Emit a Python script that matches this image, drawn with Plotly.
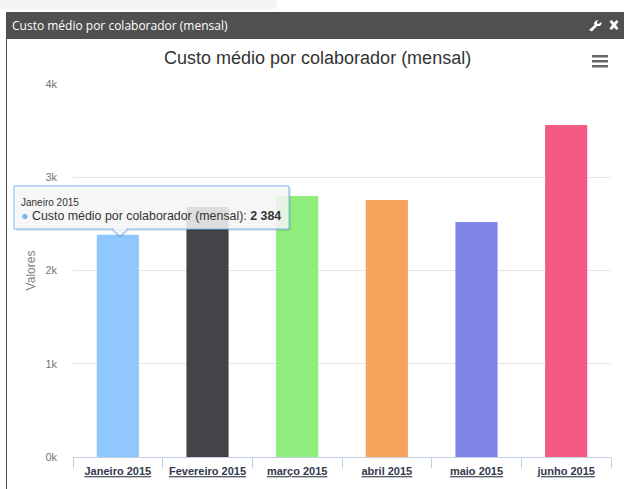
import plotly.graph_objects as go

W, H = 624, 489
categories = ["Janeiro 2015", "Fevereiro 2015", "março 2015", "abril 2015", "maio 2015", "junho 2015"]
values = [2384, 2680, 2800, 2755, 2520, 3560]
colors = ["#90c8fd", "#434348", "#90ed7d", "#f7a35c", "#8085e9", "#f45b84"]
y_ticks = [0, 1000, 2000, 3000, 4000]
y_labels = ["0k", "1k", "2k", "3k", "4k"]
title = "Custo médio por colaborador (mensal)"
y_title = "Valores"
L, R, T, B = 73, 611, 84, 457

def px(x):
    return (x - L) / (R - L)

def py(y):
    return (B - y) / (B - T)

def rect(x0, y0, x1, y1, fill, line=None, lw=0, layer="above"):
    return dict(type="rect", xref="paper", yref="paper", x0=px(x0), x1=px(x1), y0=py(y0), y1=py(y1),
                fillcolor=fill, line=dict(color=line or fill, width=lw), layer=layer)

def poly(points, fill, line=None, lw=0):
    d = "M" + " L".join(f"{px(a):.5f},{py(b):.5f}" for a, b in points) + " Z"
    return dict(type="path", xref="paper", yref="paper", path=d, fillcolor=fill,
                line=dict(color=line or fill, width=lw), layer="above")

def text(x, y, s, size, color, family="Liberation Sans", anchor="left"):
    return dict(xref="paper", yref="paper", x=px(x), y=py(y), text=s, showarrow=False, xanchor=anchor,
                yanchor="middle", align=anchor, font=dict(size=size, color=color, family=family),
                borderpad=0, borderwidth=0)

shapes = [
    rect(0, 0, 277, 9, "#f5f5f5", layer="below"),
    rect(6, 12, 7, 489, "#505050", layer="below"),
    rect(6, 12, 624, 39, "#505050", layer="below"),
    # tooltip shadow, body and pointer
    rect(16, 188, 291, 231, "rgba(0,0,0,0.10)"),
    poly([(111, 231), (120, 238), (129, 231)], "rgba(0,0,0,0.10)"),
    rect(14, 186, 289, 229, "rgba(249,249,249,0.85)", "#7cb5ec", 1),
    poly([(112, 229), (120, 236), (128, 229)], "#f4f8fc", "#7cb5ec", 1),
    rect(113, 227.5, 127, 229.5, "#f6f8fa"),
    # menu button
    rect(592, 55, 608, 57.5, "#666666"),
    rect(592, 60, 608, 62.5, "#666666"),
    rect(592, 65, 608, 67.5, "#666666"),
    # wrench
    poly([(589, 30), (592, 31.5), (597, 26), (600, 26), (602, 23), (600, 22.5), (599, 24), (597, 23.5),
          (597, 21.5), (598.5, 20), (596, 20.5), (594, 23), (594.5, 25)], "#ffffff"),
    # close cross
    poly([(609.5, 21.5), (611.5, 20), (614, 22.5), (616.5, 20), (618.5, 21.5), (616, 25), (618.5, 28.5),
          (616.5, 30), (614, 27.5), (611.5, 30), (609.5, 28.5), (612, 25)], "#ffffff"),
]

annotations = [
    text(12, 26, title, 12, "#ffffff", "Open Sans"),
    text(317, 58, title, 18, "#333333", anchor="center"),
    text(21, 202, categories[0], 10, "#333333"),
    text(21, 215.5, f'<span style="color:#7cb5ec">●</span> {title}: <b>{values[0]:,}</b>'.replace(",", " "), 12.4, "#333333"),
]

fig = go.Figure(go.Bar(
    x=categories, y=values, marker=dict(color=colors, line=dict(width=0)), width=0.47,
    hoverinfo="skip",
))
fig.update_layout(
    width=W, height=H, autosize=False, showlegend=False,
    margin=dict(l=L, r=W - R, t=T, b=H - B, pad=0),
    paper_bgcolor="#ffffff", plot_bgcolor="#ffffff",
    font=dict(family="Liberation Sans", color="#666666"),
    shapes=shapes, annotations=annotations,
    xaxis=dict(
        type="category", tickmode="array", tickvals=categories,
        ticktext=[f"<b><u>{c}</u></b>" for c in categories], tickson="boundaries",
        ticks="outside", ticklen=10, tickcolor="#c0d0e0", tickwidth=1, showline=True,
        linecolor="#c0d0e0", linewidth=1, showgrid=False, tickangle=0, ticklabelstandoff=4,
        tickfont=dict(size=11, color="#333a4d", family="Liberation Sans"),
    ),
    yaxis=dict(
        range=[0, 4000], tickmode="array", tickvals=y_ticks, ticktext=y_labels,
        gridcolor="#e6e6e6", gridwidth=1, zeroline=False, showline=False, ticks="",
        tickfont=dict(size=11, color="#777777"), ticklabelstandoff=15,
        title=dict(text=y_title, font=dict(size=12, color="#808080"), standoff=7),
    ),
)
fig.write_html("out.html", config=dict(displayModeBar=False),
               post_script="document.body.style.margin='0';document.body.style.overflow='hidden';")
